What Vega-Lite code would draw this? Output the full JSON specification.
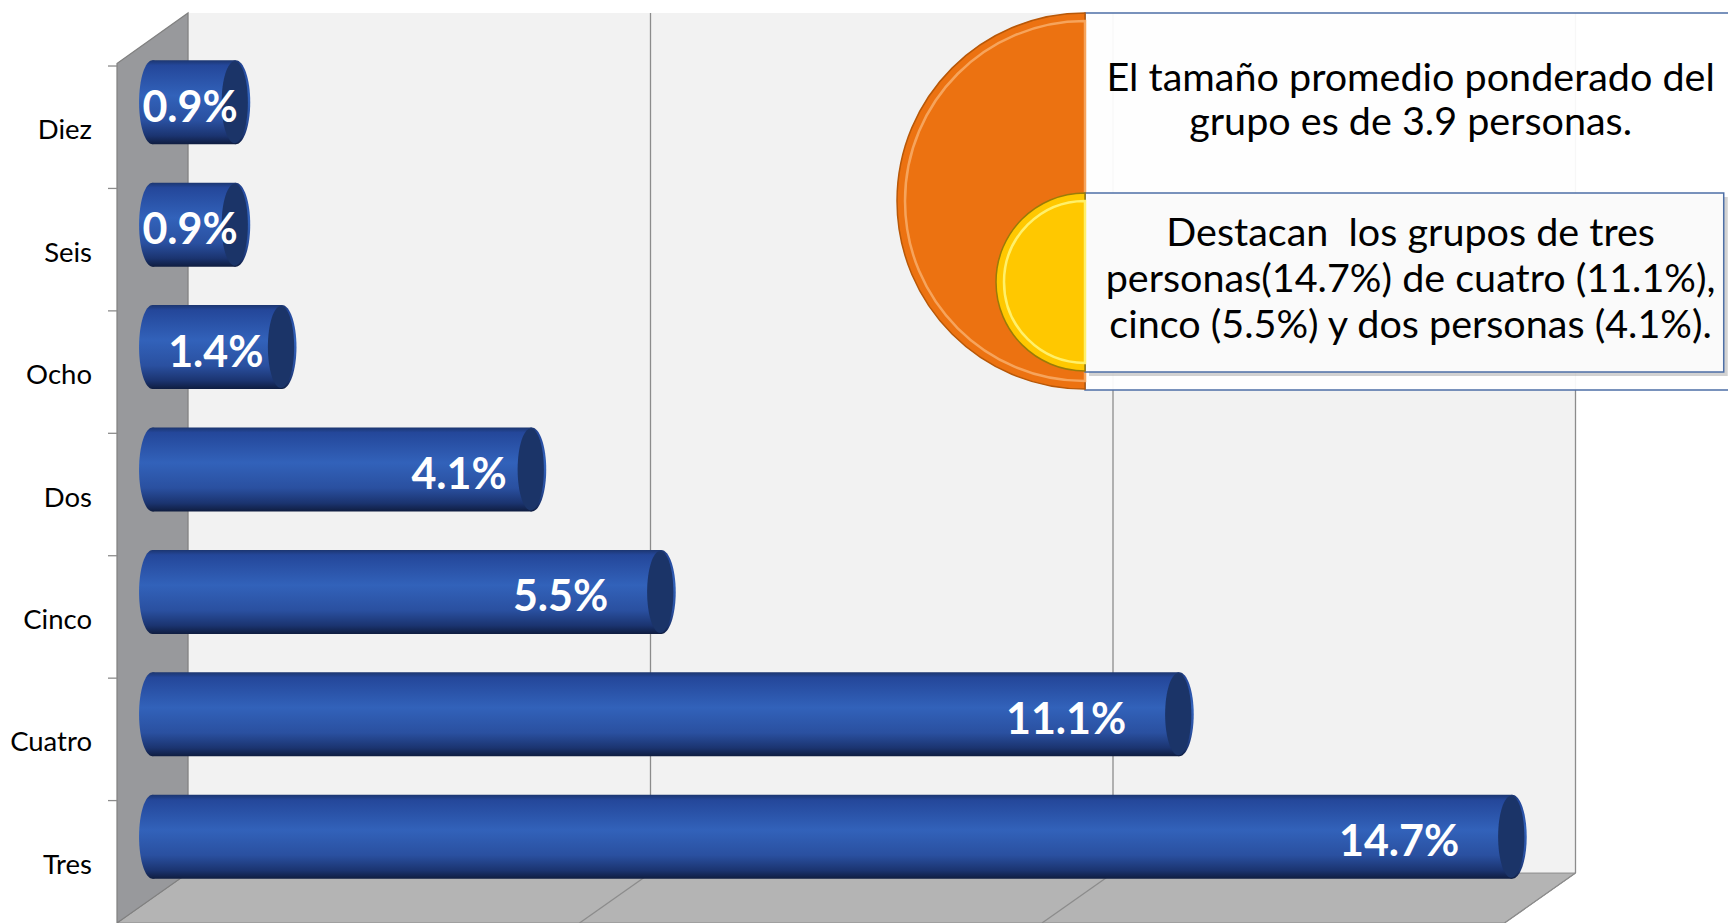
{
  "$schema": "https://vega.github.io/schema/vega-lite/v6.json",
  "autosize": "none",
  "width": 1572.5,
  "height": 857,
  "padding": {"left": 117, "top": 66, "right": 38.5, "bottom": 0},
  "background": "white",
  "config": {"view": {"stroke": null}, "font": "Lato"},
  "datasets": {
    "groups": [
      {"grupo": "Diez", "pct": 0.9},
      {"grupo": "Seis", "pct": 0.9},
      {"grupo": "Ocho", "pct": 1.4},
      {"grupo": "Dos", "pct": 4.1},
      {"grupo": "Cinco", "pct": 5.5},
      {"grupo": "Cuatro", "pct": 11.1},
      {"grupo": "Tres", "pct": 14.7}
    ],
    "grid": [{"v": 5}, {"v": 10}, {"v": 15}],
    "side": [{"x": 0, "lo": 0, "hi": 7.02}, {"x": 0.768, "lo": 0.408, "hi": 7.433}],
    "floor": [{"y": 0, "xa": 0, "xb": 15}, {"y": 0.408, "xa": 0.768, "xb": 15.768}],
    "one": [{}]
  },
  "layer": [
    {
      "layer": [
        {
          "data": {"name": "one"},
          "mark": {"type": "rect", "fill": "#f2f2f2"},
          "encoding": {
            "x": {"datum": 0.768, "type": "quantitative", "scale": {"domain": [0, 17], "nice": false, "zero": false}, "axis": null},
            "x2": {"datum": 15.768},
            "y": {"datum": 7.433, "type": "quantitative", "scale": {"domain": [0, 7], "nice": false, "zero": false}, "axis": null},
            "y2": {"datum": 0.408}
          }
        },
        {
          "data": {"name": "grid"},
          "mark": {"type": "rule", "color": "#8c8c8c", "strokeWidth": 1.3, "xOffset": 71},
          "encoding": {
            "x": {"field": "v", "type": "quantitative", "axis": null},
            "y": {"datum": 0.408, "type": "quantitative", "axis": null},
            "y2": {"datum": 7.433}
          }
        },
        {
          "data": {"name": "floor"},
          "mark": {"type": "area", "orient": "horizontal", "fill": "#b4b4b4", "stroke": "#8c8c8c", "strokeWidth": 1},
          "encoding": {
            "y": {"field": "y", "type": "quantitative", "axis": null},
            "x": {"field": "xa", "type": "quantitative", "axis": null},
            "x2": {"field": "xb"}
          }
        },
        {
          "data": {"name": "grid"},
          "mark": {"type": "rule", "color": "#8c8c8c", "strokeWidth": 1.3, "x2Offset": 71},
          "encoding": {
            "x": {"field": "v", "type": "quantitative", "axis": null},
            "x2": {"field": "v"},
            "y": {"datum": 0, "type": "quantitative", "axis": null},
            "y2": {"datum": 0.408}
          }
        },
        {
          "data": {"name": "side"},
          "mark": {"type": "area", "fill": "#98999c", "stroke": "#808080", "strokeWidth": 1.2},
          "encoding": {
            "x": {"field": "x", "type": "quantitative", "axis": null},
            "y": {"field": "hi", "type": "quantitative", "axis": null},
            "y2": {"field": "lo"}
          }
        }
      ]
    },
    {
      "data": {"name": "groups"},
      "layer": [
        {
          "mark": {"type": "rule", "color": "#8c8c8c", "strokeWidth": 1.3, "xOffset": -9, "yOffset": -61.2},
          "encoding": {
            "x": {"datum": 0, "type": "quantitative", "axis": null},
            "x2": {"datum": 0},
            "y": {"field": "grupo", "type": "nominal", "sort": null, "scale": {"type": "band", "paddingInner": 0, "paddingOuter": 0}, "axis": null}
          }
        },
        {
          "mark": {"type": "text", "align": "right", "baseline": "middle", "dx": -25, "dy": 4, "font": "Lato", "fontSize": 27.5, "color": "#000000"},
          "encoding": {
            "x": {"datum": 0, "type": "quantitative", "axis": null},
            "y": {"field": "grupo", "type": "nominal", "sort": null, "axis": null},
            "text": {"field": "grupo", "type": "nominal"}
          }
        },
        {
          "mark": {"type": "point", "shape": "M0,-1C0.1767,-1 0.32,-0.5523 0.32,0C0.32,0.5523 0.1767,1 0,1C-0.1767,1 -0.32,0.5523 -0.32,0C-0.32,-0.5523 -0.1767,-1 0,-1Z", "size": 7056, "filled": true, "opacity": 1, "strokeWidth": 0, "xOffset": 35.5, "yOffset": -25,
            "fill": {"gradient": "linear", "x1": 0, "y1": 0, "x2": 0, "y2": 1, "stops": [{"offset": 0, "color": "#1c3670"}, {"offset": 0.06, "color": "#24479a"}, {"offset": 0.42, "color": "#3262ba"}, {"offset": 0.72, "color": "#2a50a0"}, {"offset": 0.9, "color": "#1b3470"}, {"offset": 1, "color": "#0f1d40"}]}},
          "encoding": {
            "x": {"datum": 0, "type": "quantitative", "axis": null},
            "y": {"field": "grupo", "type": "nominal", "sort": null, "axis": null}
          }
        },
        {
          "mark": {"type": "bar", "height": 84, "xOffset": 35.5, "x2Offset": 35.5, "yOffset": -25,
            "fill": {"gradient": "linear", "x1": 0, "y1": 0, "x2": 0, "y2": 1, "stops": [{"offset": 0, "color": "#1c3670"}, {"offset": 0.06, "color": "#24479a"}, {"offset": 0.42, "color": "#3262ba"}, {"offset": 0.72, "color": "#2a50a0"}, {"offset": 0.9, "color": "#1b3470"}, {"offset": 1, "color": "#0f1d40"}]}},
          "encoding": {
            "x": {"field": "pct", "type": "quantitative", "axis": null},
            "x2": {"datum": 0},
            "y": {"field": "grupo", "type": "nominal", "sort": null, "axis": null}
          }
        },
        {
          "mark": {"type": "point", "shape": "M0,-1C0.1905,-1 0.345,-0.5523 0.345,0C0.345,0.5523 0.1905,1 0,1C-0.1905,1 -0.345,0.5523 -0.345,0C-0.345,-0.5523 -0.1905,-1 0,-1Z", "size": 7056, "filled": true, "opacity": 1, "strokeWidth": 0, "xOffset": 35.5, "yOffset": -25,
            "fill": {"gradient": "linear", "x1": 0, "y1": 0, "x2": 0, "y2": 1, "stops": [{"offset": 0, "color": "#1c3670"}, {"offset": 0.06, "color": "#24479a"}, {"offset": 0.42, "color": "#3262ba"}, {"offset": 0.72, "color": "#2a50a0"}, {"offset": 0.9, "color": "#1b3470"}, {"offset": 1, "color": "#0f1d40"}]}},
          "encoding": {
            "x": {"field": "pct", "type": "quantitative", "axis": null},
            "y": {"field": "grupo", "type": "nominal", "sort": null, "axis": null}
          }
        },
        {
          "mark": {"type": "point", "shape": "M0,-1C0.1767,-1 0.32,-0.5523 0.32,0C0.32,0.5523 0.1767,1 0,1C-0.1767,1 -0.32,0.5523 -0.32,0C-0.32,-0.5523 -0.1767,-1 0,-1Z", "size": 6724, "filled": true, "opacity": 1, "fill": "#1b3468", "strokeWidth": 0, "xOffset": 34.5, "yOffset": -25},
          "encoding": {
            "x": {"field": "pct", "type": "quantitative", "axis": null},
            "y": {"field": "grupo", "type": "nominal", "sort": null, "axis": null}
          }
        },
        {
          "transform": [{"filter": "datum.pct >= 5"}],
          "mark": {"type": "text", "align": "right", "baseline": "alphabetic", "dx": -17.5, "dy": -5.5, "font": "Lato", "fontWeight": "bold", "fontSize": 43, "color": "#ffffff", "text": {"expr": "format(datum.pct, '.1f') + '%'"}},
          "encoding": {
            "x": {"field": "pct", "type": "quantitative", "axis": null},
            "y": {"field": "grupo", "type": "nominal", "sort": null, "axis": null}
          }
        },
        {
          "transform": [{"filter": "datum.pct >= 4 && datum.pct < 5"}],
          "mark": {"type": "text", "align": "right", "baseline": "alphabetic", "dx": 10.5, "dy": -5.5, "font": "Lato", "fontWeight": "bold", "fontSize": 43, "color": "#ffffff", "text": {"expr": "format(datum.pct, '.1f') + '%'"}},
          "encoding": {
            "x": {"field": "pct", "type": "quantitative", "axis": null},
            "y": {"field": "grupo", "type": "nominal", "sort": null, "axis": null}
          }
        },
        {
          "transform": [{"filter": "datum.pct >= 1 && datum.pct < 4"}],
          "mark": {"type": "text", "align": "right", "baseline": "alphabetic", "dx": 17, "dy": -5.5, "font": "Lato", "fontWeight": "bold", "fontSize": 43, "color": "#ffffff", "text": {"expr": "format(datum.pct, '.1f') + '%'"}},
          "encoding": {
            "x": {"field": "pct", "type": "quantitative", "axis": null},
            "y": {"field": "grupo", "type": "nominal", "sort": null, "axis": null}
          }
        },
        {
          "transform": [{"filter": "datum.pct < 1"}],
          "mark": {"type": "text", "align": "right", "baseline": "alphabetic", "dx": 37.5, "dy": -5.5, "font": "Lato", "fontWeight": "bold", "fontSize": 43, "color": "#ffffff", "text": {"expr": "format(datum.pct, '.1f') + '%'"}},
          "encoding": {
            "x": {"field": "pct", "type": "quantitative", "axis": null},
            "y": {"field": "grupo", "type": "nominal", "sort": null, "axis": null}
          }
        }
      ]
    },
    {
      "data": {"name": "one"},
      "layer": [
        {
          "mark": {"type": "rect", "fill": "#ffffff", "fillOpacity": 0.93, "stroke": "#4d6fa6", "strokeWidth": 1.5},
          "encoding": {
            "x": {"datum": 10.465, "type": "quantitative", "axis": null},
            "x2": {"datum": 17.6},
            "y": {"datum": 7.433, "type": "quantitative", "scale": {"domain": [0, 7], "nice": false, "zero": false}, "axis": null},
            "y2": {"datum": 4.354}
          }
        },
        {
          "mark": {"type": "point", "shape": "M0,-1C-0.5523,-1 -1,-0.5523 -1,0C-1,0.5523 -0.5523,1 0,1Z", "size": 141376, "filled": true, "opacity": 1, "fill": "#ec7211", "stroke": "#b85808", "strokeWidth": 1.5},
          "encoding": {
            "x": {"datum": 10.465, "type": "quantitative", "axis": null},
            "y": {"datum": 5.897, "type": "quantitative", "axis": null}
          }
        },
        {
          "mark": {"type": "point", "shape": "M0,-1C-0.5523,-1 -1,-0.5523 -1,0C-1,0.5523 -0.5523,1 0,1Z", "size": 129600, "filled": false, "opacity": 1, "stroke": "#f6a45c", "strokeWidth": 2.5},
          "encoding": {
            "x": {"datum": 10.465, "type": "quantitative", "axis": null},
            "y": {"datum": 5.897, "type": "quantitative", "axis": null}
          }
        },
        {
          "mark": {"type": "rect", "fill": "#7f7f7f", "fillOpacity": 0.35, "xOffset": 4, "x2Offset": 4, "yOffset": 4, "y2Offset": 4},
          "encoding": {
            "x": {"datum": 10.465, "type": "quantitative", "axis": null},
            "x2": {"datum": 17.37},
            "y": {"datum": 5.963, "type": "quantitative", "axis": null},
            "y2": {"datum": 4.5}
          }
        },
        {
          "mark": {"type": "rect", "fill": "#fbfbfb", "fillOpacity": 0.97, "stroke": "#4d6fa6", "strokeWidth": 1.5},
          "encoding": {
            "x": {"datum": 10.465, "type": "quantitative", "axis": null},
            "x2": {"datum": 17.37},
            "y": {"datum": 5.963, "type": "quantitative", "axis": null},
            "y2": {"datum": 4.5}
          }
        },
        {
          "mark": {"type": "point", "shape": "M0,-1C-0.5523,-1 -1,-0.5523 -1,0C-1,0.5523 -0.5523,1 0,1Z", "size": 31684, "filled": true, "opacity": 1, "fill": "#ffc800", "stroke": "#9a7b08", "strokeWidth": 1.5},
          "encoding": {
            "x": {"datum": 10.465, "type": "quantitative", "axis": null},
            "y": {"datum": 5.236, "type": "quantitative", "axis": null}
          }
        },
        {
          "mark": {"type": "point", "shape": "M0,-1C-0.5523,-1 -1,-0.5523 -1,0C-1,0.5523 -0.5523,1 0,1Z", "size": 26244, "filled": false, "opacity": 1, "stroke": "#fff06a", "strokeWidth": 2.5},
          "encoding": {
            "x": {"datum": 10.465, "type": "quantitative", "axis": null},
            "y": {"datum": 5.236, "type": "quantitative", "axis": null}
          }
        },
        {
          "mark": {"type": "text", "align": "center", "baseline": "alphabetic", "font": "Lato", "fontSize": 39.5, "lineHeight": 44.3, "color": "#000000"},
          "encoding": {
            "x": {"datum": 13.985, "type": "quantitative", "axis": null},
            "y": {"datum": 6.798, "type": "quantitative", "axis": null},
            "text": {"value": ["El tamaño promedio ponderado del", "grupo es de 3.9 personas."]}
          }
        },
        {
          "mark": {"type": "text", "align": "center", "baseline": "alphabetic", "font": "Lato", "fontSize": 39.5, "lineHeight": 46, "color": "#000000"},
          "encoding": {
            "x": {"datum": 13.985, "type": "quantitative", "axis": null},
            "y": {"datum": 5.53, "type": "quantitative", "axis": null},
            "text": {"value": ["Destacan\u00a0 los grupos de tres", "personas(14.7%) de cuatro (11.1%),", "cinco (5.5%) y dos personas (4.1%)."]}
          }
        }
      ]
    }
  ],
  "resolve": {"scale": {"y": "independent"}}
}
